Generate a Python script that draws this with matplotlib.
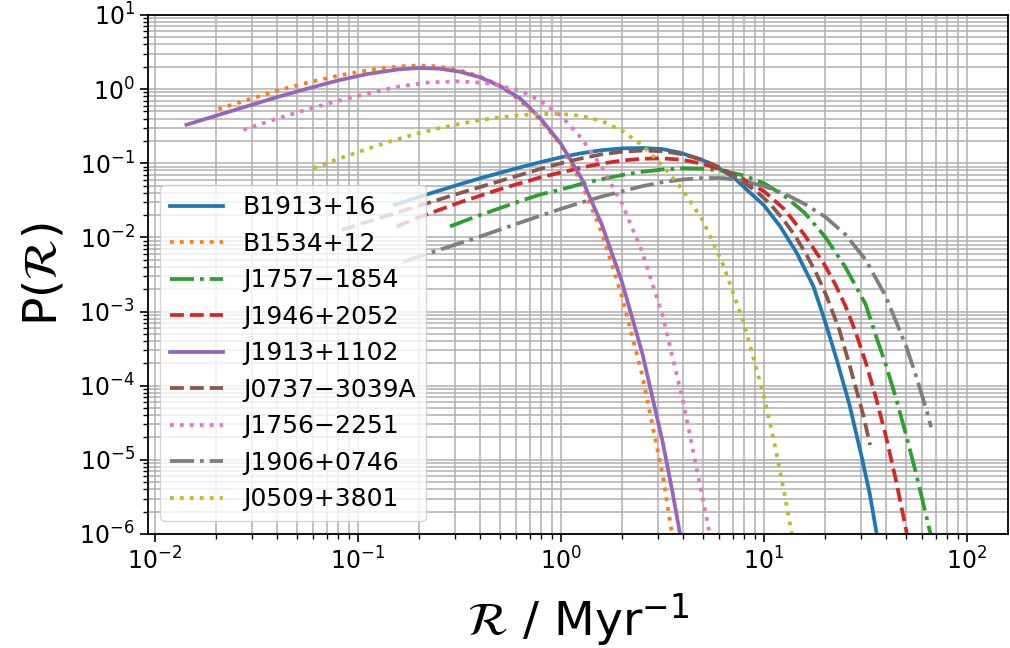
import numpy as np
import matplotlib
matplotlib.use("Agg")
import matplotlib.pyplot as plt

# values, stored as log10 (R in Myr^-1, P(R))
b1913_lx = [-0.818, -0.7, -0.6, -0.5, -0.4, -0.3, -0.2, -0.1, 0.0, 0.1, 0.2, 0.3, 0.4, 0.5,
            0.586, 0.685, 0.75, 0.85, 0.915, 0.997, 1.079, 1.161, 1.243, 1.3, 1.358, 1.42,
            1.48, 1.52, 1.555, 1.575]
b1913_ly = [-1.561, -1.455, -1.37, -1.285, -1.205, -1.13, -1.055, -0.985, -0.92, -0.865,
            -0.825, -0.80, -0.795, -0.81, -0.858, -0.945, -1.023, -1.19, -1.358, -1.56,
            -1.85, -2.21, -2.66, -3.13, -3.65, -4.25, -4.95, -5.45, -6.0, -6.3]

b1534_lx = [-1.688, -1.55, -1.4, -1.25, -1.1, -0.95, -0.8, -0.7, -0.6, -0.5, -0.4, -0.3,
            -0.2, -0.1, 0.0, 0.1, 0.2, 0.3, 0.4, 0.5, 0.55]
b1534_ly = [-0.27, -0.15, -0.025, 0.085, 0.18, 0.255, 0.305, 0.318, 0.305, 0.255, 0.17,
            0.045, -0.16, -0.42, -0.76, -1.27, -1.93, -2.8, -3.86, -5.2, -6.05]

j1757_lx = [-0.547, -0.4, -0.3, -0.2, -0.1, 0.0, 0.1, 0.2, 0.3, 0.4, 0.5, 0.6, 0.7, 0.8,
            0.9, 1.0, 1.1, 1.2, 1.3, 1.4, 1.5, 1.55, 1.6, 1.65, 1.7, 1.75, 1.8, 1.82, 1.84]
j1757_ly = [-1.853, -1.70, -1.605, -1.51, -1.42, -1.355, -1.28, -1.215, -1.16, -1.115,
            -1.085, -1.07, -1.075, -1.105, -1.165, -1.27, -1.44, -1.67, -1.99, -2.4, -2.9,
            -3.32, -3.72, -4.17, -4.67, -5.2, -5.77, -6.0, -6.25]

j1946_lx = [-0.809, -0.7, -0.5, -0.3, -0.1, 0.0, 0.1, 0.2, 0.3, 0.4, 0.5, 0.6, 0.7, 0.8,
            0.9, 1.0, 1.1, 1.2, 1.3, 1.35, 1.4, 1.45, 1.5, 1.55, 1.6, 1.65, 1.7, 1.72]
j1946_ly = [-1.853, -1.73, -1.53, -1.35, -1.19, -1.125, -1.06, -1.005, -0.965, -0.94,
            -0.935, -0.955, -1.01, -1.095, -1.22, -1.38, -1.62, -1.97, -2.38, -2.63, -2.92,
            -3.27, -3.68, -4.15, -4.68, -5.28, -5.95, -6.25]

j1913_lx = [-1.845, -1.7, -1.55, -1.4, -1.25, -1.1, -0.95, -0.8, -0.7, -0.6, -0.5, -0.4,
            -0.3, -0.2, -0.1, 0.0, 0.1, 0.2, 0.3, 0.4, 0.5, 0.55, 0.586, 0.6]
j1913_ly = [-0.482, -0.36, -0.235, -0.11, 0.005, 0.115, 0.205, 0.265, 0.284, 0.275, 0.235,
            0.16, 0.04, -0.13, -0.40, -0.74, -1.2, -1.82, -2.6, -3.56, -4.75, -5.45, -6.0,
            -6.25]

j0737_lx = [-1.08, -0.9, -0.7, -0.5, -0.3, -0.1, 0.0, 0.1, 0.2, 0.3, 0.4, 0.5, 0.6, 0.7,
            0.8, 0.882, 0.964, 1.03, 1.095, 1.153, 1.21, 1.26, 1.309, 1.37, 1.424, 1.489,
            1.522]
j0737_ly = [-1.90, -1.745, -1.575, -1.405, -1.24, -1.075, -1.0, -0.935, -0.88, -0.845,
            -0.83, -0.837, -0.88, -0.96, -1.08, -1.224, -1.383, -1.55, -1.76, -1.98, -2.24,
            -2.5, -2.80, -3.24, -3.75, -4.40, -4.80]

j1756_lx = [-1.565, -1.4, -1.25, -1.1, -0.95, -0.8, -0.65, -0.5, -0.35, -0.2, -0.1, 0.0,
            0.1, 0.2, 0.3, 0.4, 0.5, 0.6, 0.7, 0.75]
j1756_ly = [-0.55, -0.40, -0.275, -0.16, -0.06, 0.035, 0.09, 0.105, 0.075, -0.02, -0.16,
            -0.36, -0.66, -1.05, -1.54, -2.2, -3.05, -4.2, -5.55, -6.25]

j1906_lx = [-0.777, -0.6, -0.4, -0.2, 0.0, 0.1, 0.2, 0.3, 0.4, 0.5, 0.6, 0.7, 0.8, 0.9,
            1.0, 1.1, 1.2, 1.3, 1.4, 1.5, 1.6, 1.7, 1.75, 1.8, 1.823]
j1906_ly = [-2.33, -2.17, -1.99, -1.8, -1.615, -1.53, -1.45, -1.38, -1.31, -1.255, -1.22,
            -1.2, -1.2, -1.24, -1.31, -1.41, -1.55, -1.72, -1.96, -2.3, -2.8, -3.47, -3.88,
            -4.33, -4.56]

j0509_lx = [-1.22, -1.1, -1.0, -0.9, -0.8, -0.7, -0.6, -0.5, -0.4, -0.3, -0.2, -0.1, 0.0,
            0.1, 0.2, 0.3, 0.4, 0.5, 0.6, 0.7, 0.8, 0.9, 1.0, 1.05, 1.1, 1.15]
j0509_ly = [-1.066, -0.945, -0.85, -0.757, -0.672, -0.595, -0.527, -0.47, -0.42, -0.38,
            -0.352, -0.336, -0.336, -0.36, -0.43, -0.56, -0.76, -1.03, -1.36, -1.78, -2.38,
            -3.15, -4.15, -4.76, -5.45, -6.2]

labels = ["B1913+16", "B1534+12", "J1757\u22121854", "J1946+2052", "J1913+1102",
          "J0737\u22123039A", "J1756\u22122251", "J1906+0746", "J0509+3801"]
series = [(b1913_lx, b1913_ly), (b1534_lx, b1534_ly), (j1757_lx, j1757_ly),
          (j1946_lx, j1946_ly), (j1913_lx, j1913_ly), (j0737_lx, j0737_ly),
          (j1756_lx, j1756_ly), (j1906_lx, j1906_ly), (j0509_lx, j0509_ly)]
styles = ["-", ":", "-.", "--", "-", "--", ":", "-.", ":"]

fig = plt.figure(figsize=(10.1, 6.48), dpi=100)
ax = fig.add_axes([0.1465, 0.176, 0.8515, 0.801])

for (lx, ly), lab, ls in zip(series, labels, styles):
    ax.plot(10.0 ** np.asarray(lx), 10.0 ** np.asarray(ly), ls, lw=2.7, label=lab)

ax.set_xscale("log")
ax.set_yscale("log")
ax.set_xlim(0.00924, 159)
ax.set_ylim(1e-6, 1e1)

ax.grid(True, which="both", color="#b0b0b0", lw=1.1)
ax.set_axisbelow(True)
ax.tick_params(which="major", labelsize=17, length=6, width=1.2)
ax.tick_params(which="minor", length=3.5, width=1.0)
for sp in ax.spines.values():
    sp.set_linewidth(1.3)

ax.set_xlabel(r"$\mathcal{R}$ / Myr$^{-1}$", fontsize=34, labelpad=12)
ax.set_ylabel(r"P($\mathcal{R}$)", fontsize=34, labelpad=9)

ax.legend(loc="lower left", fontsize=18, labelspacing=0.5, handlelength=2.1,
          handletextpad=0.8, borderaxespad=0.5)

fig.savefig("out.png", dpi=100)
